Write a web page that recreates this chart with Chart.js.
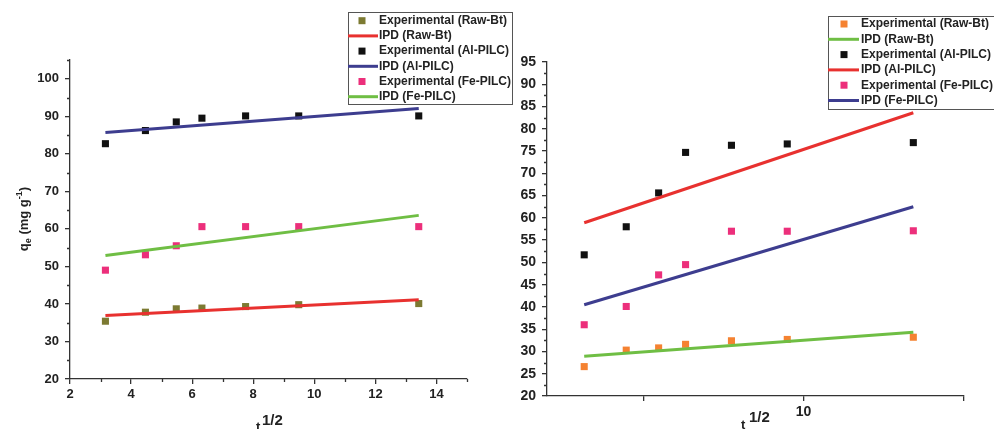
<!DOCTYPE html>
<html>
<head>
<meta charset="utf-8">
<script src="https://cdn.jsdelivr.net/npm/chart.js@4"></script>
<style>
body{margin:0;background:#fff}
#wrap{position:relative;width:994px;height:429px;overflow:hidden}
canvas{position:absolute;top:0}
</style>
</head>
<body>
<div id="wrap">
<canvas id="left" width="520" height="429" style="left:0"></canvas>
<canvas id="right" width="497" height="429" style="left:497px"></canvas>
</div>
<script>
// t^1/2 values (sqrt of 10,20,30,40,60,90,180 min)
var sqrtT = [3.16, 4.47, 5.48, 6.32, 7.75, 9.49, 13.42];
var fitX = [3.16, 13.42];

// left panel
var rawBtA = [35.4, 37.8, 38.7, 38.9, 39.3, 39.8, 40.1];
var rawBtFitA = [36.9, 41.1];
var alPilcA = [82.7, 86.2, 88.5, 89.5, 90.1, 90.1, 90.1];
var alFitA = [85.7, 92.1];
var fePilcA = [49.0, 53.1, 55.5, 60.6, 60.6, 60.6, 60.6];
var feFitA = [52.9, 63.6];

// right panel
var rawBtB = [26.6, 30.3, 30.8, 31.6, 32.4, 32.7, 33.2];
var rawBtFitB = [28.9, 34.3];
var alPilcB = [51.7, 58.0, 65.6, 74.7, 76.3, 76.6, 76.9];
var alFitB = [58.9, 83.6];
var fePilcB = [36.0, 40.1, 47.2, 49.5, 57.0, 57.0, 57.1];
var feFitB = [40.5, 62.5];

var labels = ['Experimental (Raw-Bt)', 'IPD (Raw-Bt)', 'Experimental (Al-PILC)', 'IPD (Al-PILC)', 'Experimental (Fe-PILC)', 'IPD (Fe-PILC)'];

// ticks
var xTicksA = [2, 4, 6, 8, 10, 12, 14];
var xMinorA = [3, 5, 7, 9, 11, 13, 15];
var yTicksA = [20, 30, 40, 50, 60, 70, 80, 90, 100];
var yMinorA = [25, 35, 45, 55, 65, 75, 85, 95, 105];
var xTicksB = [5, 10, 15];
var xLabelsB = ['', '10', ''];
var xMinorB = [];
var yTicksB = [20, 25, 30, 35, 40, 45, 50, 55, 60, 65, 70, 75, 80, 85, 90, 95];
var yMinorB = [22.5, 27.5, 32.5, 37.5, 42.5, 47.5, 52.5, 57.5, 62.5, 67.5, 72.5, 77.5, 82.5, 87.5, 92.5];

var FONT = '"Liberation Sans", Arial, sans-serif';
var RED = '#e8312f', BLUE = '#3d3d8f', GREEN = '#6fbe44';
var OLIVE = '#7c7a32', BLACK = '#111111', PINK = '#ec2f7b', ORANGE = '#f58231';

function pts(xs, ys) {
    return xs.map(function (x, i) { return {x: x, y: ys[i]}; });
}
function expSet(label, ys, color) {
    return {label: label, data: pts(sqrtT, ys), backgroundColor: color, borderColor: color,
        pointStyle: 'rect', pointRadius: 5, pointBorderWidth: 0, showLine: false, order: 2};
}
function fitSet(label, ys, color) {
    return {label: label, data: pts(fitX, ys), borderColor: color, backgroundColor: color,
        showLine: true, pointRadius: 0, borderWidth: 3, order: 1};
}

var boxLegend = {
    id: 'boxLegend',
    afterDraw: function (chart, args, o) {
        var ctx = chart.ctx;
        ctx.save();
        ctx.strokeStyle = '#555';
        ctx.lineWidth = 1;
        ctx.strokeRect(o.x + 0.5, o.y + 0.5, o.w, o.h);
        ctx.font = 'bold 12px ' + FONT;
        ctx.textBaseline = 'middle';
        chart.data.datasets.forEach(function (ds, i) {
            var cy = o.y + o.first + i * o.row;
            if (ds.showLine) {
                ctx.strokeStyle = ds.borderColor;
                ctx.lineWidth = 3;
                ctx.beginPath();
                ctx.moveTo(o.x, cy);
                ctx.lineTo(o.x + o.lineW, cy);
                ctx.stroke();
            } else {
                ctx.fillStyle = ds.backgroundColor;
                ctx.fillRect(o.symX - 3.5, cy - 3.5, 7, 7);
            }
            ctx.fillStyle = '#222';
            ctx.fillText(ds.label, o.textX, cy);
        });
        ctx.restore();
    }
};

var minorTicks = {
    id: 'minorTicks',
    afterDraw: function (chart, args, o) {
        var ctx = chart.ctx, xs = chart.scales.x, ys = chart.scales.y;
        ctx.save();
        ctx.strokeStyle = '#333';
        ctx.lineWidth = 1.3;
        ctx.beginPath();
        o.x.forEach(function (v) {
            var px = Math.round(xs.getPixelForValue(v)) + 0.5;
            ctx.moveTo(px, xs.top);
            ctx.lineTo(px, xs.top + 3);
        });
        o.y.forEach(function (v) {
            var py = Math.round(ys.getPixelForValue(v)) + 0.5;
            ctx.moveTo(ys.right, py);
            ctx.lineTo(ys.right - 3, py);
        });
        ctx.stroke();
        ctx.restore();
    }
};

var axisTitles = {
    id: 'axisTitles',
    afterDraw: function (chart, args, o) {
        var ctx = chart.ctx;
        ctx.save();
        ctx.fillStyle = '#222';
        ctx.textBaseline = 'top';
        ctx.font = 'bold 13px ' + FONT;
        ctx.fillText('t', o.tx, o.ty);
        ctx.font = 'bold 15px ' + FONT;
        ctx.fillText('1/2', o.sx, o.sy);
        if (o.yTitle) {
            ctx.translate(o.yx, o.yy);
            ctx.rotate(-Math.PI / 2);
            ctx.textBaseline = 'alphabetic';
            var parts = [
                ['q', 13, 0], ['e', 9, 3], [' (mg g', 13, 0], ['-1', 9, -6], [')', 13, 0]
            ];
            var total = 0;
            parts.forEach(function (p) { ctx.font = 'bold ' + p[1] + 'px ' + FONT; total += ctx.measureText(p[0]).width; });
            var cx = -total / 2;
            parts.forEach(function (p) {
                ctx.font = 'bold ' + p[1] + 'px ' + FONT;
                ctx.fillText(p[0], cx, p[2]);
                cx += ctx.measureText(p[0]).width;
            });
        }
        ctx.restore();
    }
};

function axes(cfg) {
    return {
        x: {
            type: 'linear', min: cfg.xMin, max: cfg.xMax,
            afterBuildTicks: function (s) { s.ticks = cfg.xTicks.map(function (v) { return {value: v}; }); },
            afterFit: function (s) { s.height = cfg.xH; },
            border: {display: true, color: '#333', width: 1.3},
            grid: {display: true, drawOnChartArea: false, drawTicks: true, tickLength: 5, color: '#333', lineWidth: 1.3},
            ticks: {
                font: {size: cfg.fs, weight: 'bold', family: FONT}, color: '#222', padding: 3, maxRotation: 0,
                callback: cfg.xCb
            }
        },
        y: {
            type: 'linear', min: cfg.yMin, max: cfg.yMax,
            afterBuildTicks: function (s) { s.ticks = cfg.yTicks.map(function (v) { return {value: v}; }); },
            afterFit: function (s) { s.width = cfg.yW; },
            border: {display: true, color: '#333', width: 1.3},
            grid: {display: true, drawOnChartArea: false, drawTicks: true, tickLength: 5, color: '#333', lineWidth: 1.3},
            ticks: {font: {size: cfg.fs, weight: 'bold', family: FONT}, color: '#222', padding: 6}
        }
    };
}

new Chart(document.getElementById('left'), {
    type: 'scatter',
    data: {
        datasets: [
            expSet(labels[0], rawBtA, OLIVE),
            fitSet(labels[1], rawBtFitA, RED),
            expSet(labels[2], alPilcA, BLACK),
            fitSet(labels[3], alFitA, BLUE),
            expSet(labels[4], fePilcA, PINK),
            fitSet(labels[5], feFitA, GREEN)
        ]
    },
    options: {
        responsive: false, animation: false, devicePixelRatio: 1,
        layout: {padding: {left: 0, right: 53, top: 60, bottom: 0}},
        scales: axes({xMin: 2, xMax: 15, yMin: 20, yMax: 105, xTicks: xTicksA, yTicks: yTicksA,
            xH: 50, yW: 70, fs: 13}),
        plugins: {
            legend: {display: false}, tooltip: {enabled: false},
            boxLegend: {x: 348, y: 12, w: 164, h: 92, first: 8.7, row: 15.2, lineW: 30, symX: 362, textX: 379},
            minorTicks: {x: xMinorA, y: yMinorA},
            axisTitles: {tx: 256, ty: 421, sx: 262, sy: 413, yTitle: true, yx: 28, yy: 219}
        }
    },
    plugins: [boxLegend, minorTicks, axisTitles]
});

new Chart(document.getElementById('right'), {
    type: 'scatter',
    data: {
        datasets: [
            expSet(labels[0], rawBtB, ORANGE),
            fitSet(labels[1], rawBtFitB, GREEN),
            expSet(labels[2], alPilcB, BLACK),
            fitSet(labels[3], alFitB, RED),
            expSet(labels[4], fePilcB, PINK),
            fitSet(labels[5], feFitB, BLUE)
        ]
    },
    options: {
        responsive: false, animation: false, devicePixelRatio: 1,
        layout: {padding: {left: 0, right: 30, top: 62, bottom: 0}},
        scales: axes({xMin: 2, xMax: 15, yMin: 20, yMax: 95, xTicks: xTicksB, yTicks: yTicksB,
            xH: 33, yW: 50, fs: 14,
            xCb: function (v, i) { return xLabelsB[i]; }}),
        plugins: {
            legend: {display: false}, tooltip: {enabled: false},
            boxLegend: {x: 331, y: 16, w: 200, h: 93, first: 8, row: 15.3, lineW: 31, symX: 347, textX: 364},
            minorTicks: {x: xMinorB, y: yMinorB},
            axisTitles: {tx: 244, ty: 419, sx: 252, sy: 410, yTitle: false}
        }
    },
    plugins: [boxLegend, minorTicks, axisTitles]
});
</script>
</body>
</html>
